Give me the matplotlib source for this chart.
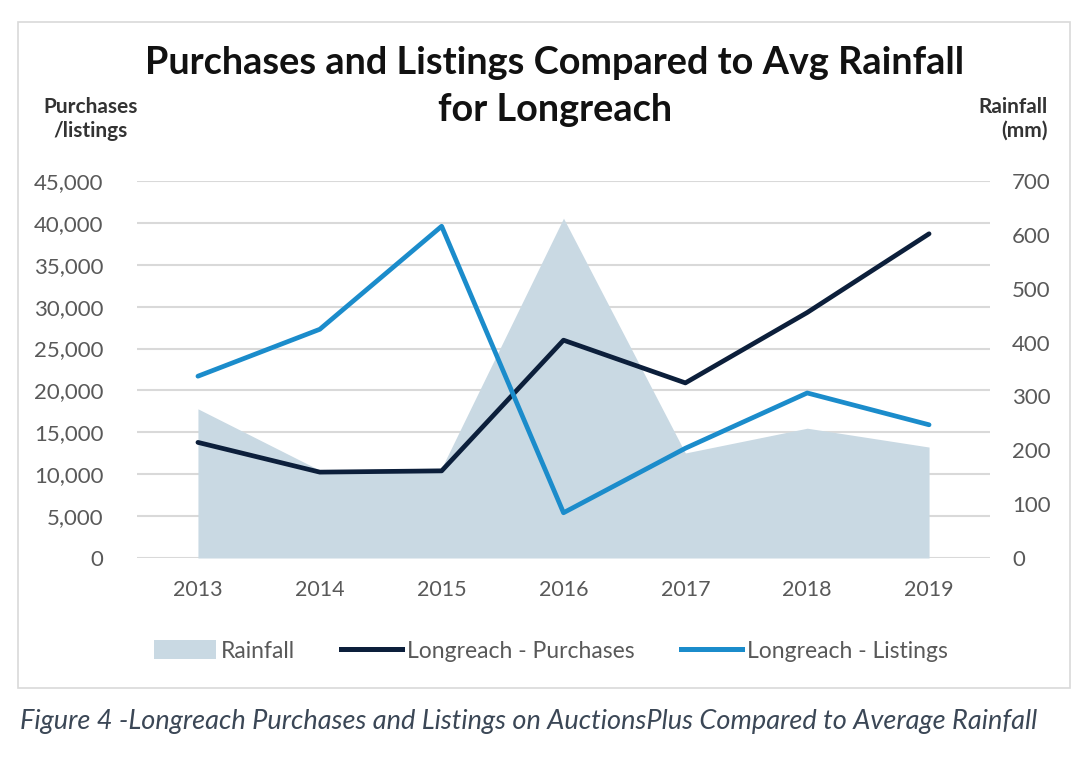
import matplotlib
matplotlib.use("Agg")
import matplotlib.pyplot as plt
from matplotlib.patches import Rectangle, Patch
from matplotlib.lines import Line2D

years = ["2013", "2014", "2015", "2016", "2017", "2018", "2019"]
rainfall = [277, 163, 167, 631, 195, 241, 206]
purchases = [13800, 10250, 10400, 26000, 20900, 29300, 38700]
listings = [21700, 27300, 39600, 5400, 13100, 19700, 15900]

left_ticks = [0, 5000, 10000, 15000, 20000, 25000, 30000, 35000, 40000, 45000]
right_ticks = [0, 100, 200, 300, 400, 500, 600, 700]

FILL = "#c9d9e3"
NAVY = "#0c1f3b"
BLUE = "#1b8ccb"
GRID = "#d9d9d9"
TICK = "#595959"
FONT = "Lato"

fig = plt.figure(figsize=(10.86, 7.57), dpi=100)
fig.patches.append(Rectangle((18/1086, 1-688/757), (1070-18)/1086, (688-22)/757,
                             transform=fig.transFigure, fill=False,
                             edgecolor="#d9d9d9", linewidth=1.2))

ax = fig.add_axes([137/1086, 1-558/757, (990-137)/1086, (558-181)/757])
ax2 = ax.twinx()
x = list(range(len(years)))

ax2.fill_between(x, rainfall, 0, color=FILL, linewidth=0, zorder=1)
ax2.set_ylim(0, 700)
ax2.set_yticks(right_ticks)

ax.set_zorder(ax2.get_zorder() + 1)
ax.patch.set_visible(False)
ax.plot(x, purchases, color=NAVY, linewidth=3.4, solid_capstyle="round", zorder=3)
ax.plot(x, listings, color=BLUE, linewidth=3.4, solid_capstyle="round", zorder=4)
ax.set_ylim(0, 45000)
ax.set_yticks(left_ticks)
ax.set_yticklabels([f"{v:,}" for v in left_ticks])
ax.set_xlim(-0.5, len(years) - 0.5)
ax.set_xticks(x)
ax.set_xticklabels(years)

for a in (ax, ax2):
    for s in a.spines.values():
        s.set_visible(False)
    a.tick_params(length=0, colors=TICK, labelsize=16)
    for lab in a.get_xticklabels() + a.get_yticklabels():
        lab.set_fontfamily(FONT)
ax.tick_params(axis="y", pad=24)
ax2.tick_params(axis="y", pad=16)
ax.tick_params(axis="x", labelsize=15.5, pad=16)
for t in left_ticks:
    ax2.axhline(t / 45000 * 700, color=GRID, linewidth=1.5, zorder=0)

fig.text(555/1086, 1-63/757, "Purchases and Listings Compared to Avg Rainfall",
         ha="center", va="center", fontsize=27.3, fontweight="bold", family=FONT, color="#111111")
fig.text(555/1086, 1-110/757, "for Longreach",
         ha="center", va="center", fontsize=27.3, fontweight="bold", family=FONT, color="#111111")
fig.text(91/1086, 1-119/757, "Purchases\n/listings", ha="center", va="center",
         fontsize=15, fontweight="bold", family=FONT, color="#333333", linespacing=1.25)
fig.text(1048/1086, 1-119/757, "Rainfall\n(mm)", ha="right", va="center",
         fontsize=15, fontweight="bold", family=FONT, color="#333333", linespacing=1.25,
         multialignment="right")

handles = [Patch(facecolor=FILL, edgecolor="none"),
           Line2D([0], [0], color=NAVY, linewidth=3.6),
           Line2D([0], [0], color=BLUE, linewidth=3.6)]
labels = ["Rainfall", "Longreach - Purchases", "Longreach - Listings"]
fig.legend(handles, labels, loc="center", bbox_to_anchor=(551/1086, 1-651/757), ncol=3,
           frameon=False, prop={"family": FONT, "size": 16.5}, handlelength=2.7,
           handleheight=0.9, handletextpad=0.2, columnspacing=2.0, labelcolor=TICK)

fig.text(20/1086, 1-722/757,
         "Figure 4 -Longreach Purchases and Listings on AuctionsPlus Compared to Average Rainfall",
         ha="left", va="center", fontsize=19.5, style="italic", family=FONT, color="#3b4756")

fig.savefig("out.png", dpi=100)
